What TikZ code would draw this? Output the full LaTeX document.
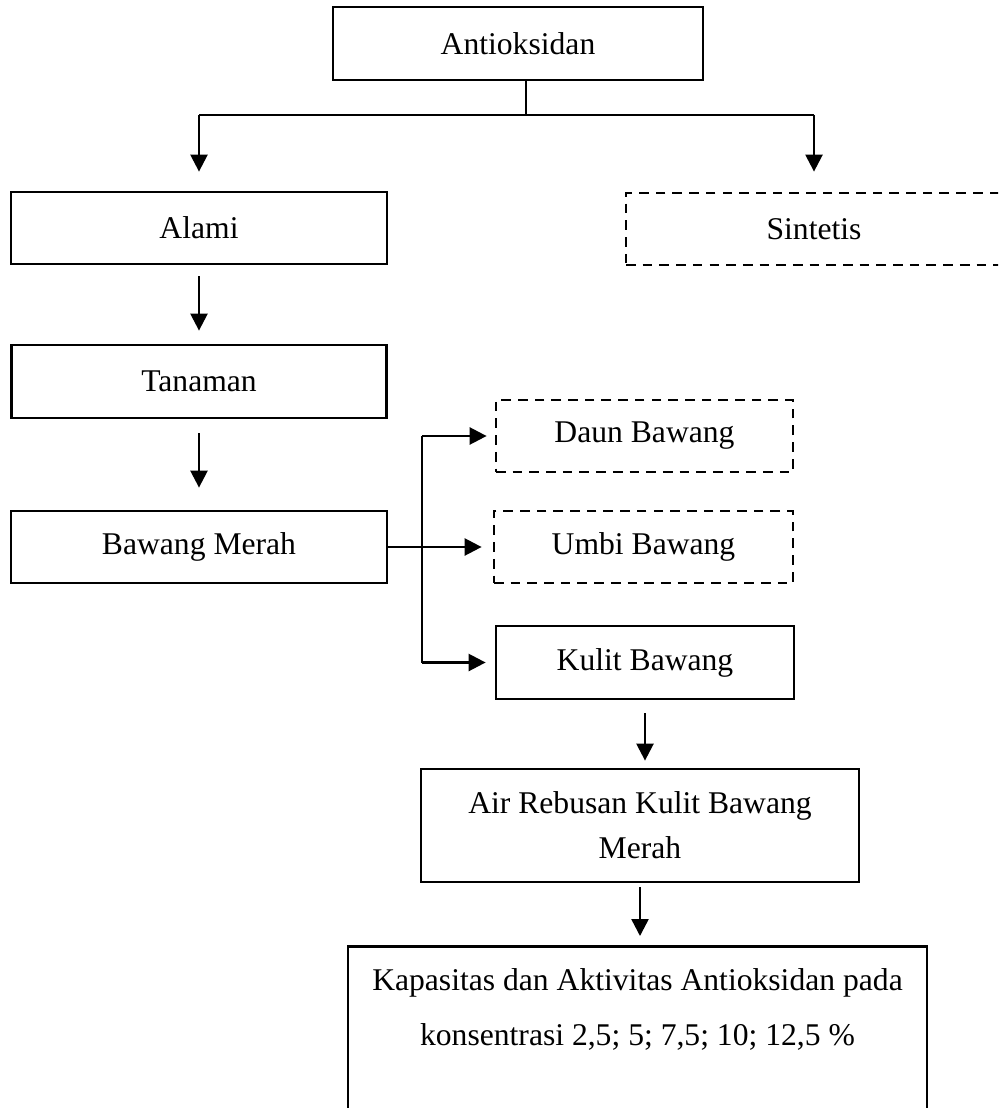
\documentclass[tikz,border=0pt]{standalone}
\usepackage{fontspec}
\setmainfont{Liberation Serif}
\usetikzlibrary{arrows.meta, calc}

\begin{document}
\begin{tikzpicture}[
        x=0.02cm, y=-0.02cm,
        font=\fontsize{18pt}{25.6pt}\selectfont,
        every node/.style={inner sep=2pt},
        kotak/.style={draw, line width=1.6pt, align=center},
        kotakputus/.style={kotak, dash pattern=on 5.5pt off 4pt},
        panah/.style={-{Triangle[length=0.34cm, width=0.34cm]}, line width=1.4pt},
        garis/.style={line width=0.8pt}
    ]
        % -------- Bidang gambar --------
        \useasboundingbox (0,0) rectangle (998,1108);
        \clip (0,0) rectangle (998,1108);

        % -------- Kotak --------
        \node[kotak, minimum width=7.4cm, minimum height=1.46cm] (anti) at (518, 43.5) {Antioksidan};

        \node[kotak, minimum width=7.52cm, minimum height=1.44cm] (alami) at (199, 228) {Alami};
        \node[kotakputus, minimum width=7.52cm, minimum height=1.44cm] (sintetis) at (814, 229) {Sintetis};

        \node[kotak, minimum width=7.5cm, minimum height=1.46cm] (tanaman) at (199, 381.5) {Tanaman};
        \node[kotak, minimum width=7.52cm, minimum height=1.44cm] (bawang) at (199, 547) {Bawang Merah};

        % bagian bawang merah
        \node[kotakputus, minimum width=5.94cm, minimum height=1.44cm] (daun) at (644.5, 436) {Daun Bawang};
        \node[kotakputus, minimum width=5.98cm, minimum height=1.44cm] (umbi) at (643.5, 547) {Umbi Bawang};
        \node[kotak, minimum width=5.96cm, minimum height=1.46cm] (kulit) at (645, 662.5) {Kulit Bawang};

        \node[kotak, minimum width=8.76cm, minimum height=2.26cm] (air) at (640, 825.5) {Air Rebusan Kulit Bawang\\Merah};

        % kotak hasil (terpotong di bawah)
        \node[kotak, anchor=north, minimum width=11.58cm, minimum height=3.52cm,
              font=\fontsize{18pt}{31.2pt}\selectfont] (hasil) at (637.5, 945)
              {Kapasitas dan Aktivitas Antioksidan pada\\konsentrasi 2,5; 5; 7,5; 10; 12,5 \%\\ \mbox{}};

        % -------- Percabangan atas --------
        \coordinate (tengah) at (526, 115);
        \coordinate (ki) at (alami.north |- tengah);
        \coordinate (ka) at (sintetis.north |- tengah);
        \draw[garis] (anti.south -| tengah) -- (tengah);
        \draw[garis] (ki) -- (ka);
        \draw[panah] (ki) -- ([yshift=0.38cm]alami.north);
        \draw[panah] (ka) -- ([yshift=0.40cm]sintetis.north);

        % -------- Alur kiri --------
        \draw[panah] ([yshift=-0.22cm]alami.south) -- ([yshift=0.26cm]tanaman.north);
        \draw[panah] ([yshift=-0.28cm]tanaman.south) -- ([yshift=0.44cm]bawang.north);

        % -------- Percabangan bawang merah --------
        \coordinate (cabang) at (422, 547);
        \draw[garis] (bawang.east) -- (cabang);
        \draw[garis] (cabang |- daun.west) -- (cabang |- kulit.west);
        \draw[panah] (cabang |- daun.west) -- ([xshift=-0.16cm]daun.west);
        \draw[panah] (cabang) -- ([xshift=-0.22cm]umbi.west);
        \draw[panah] (cabang |- kulit.west) -- ([xshift=-0.18cm]kulit.west);

        % -------- Alur kulit bawang --------
        \draw[panah] ([yshift=-0.26cm]kulit.south) -- ([yshift=0.14cm]air.north -| kulit.south);
        \draw[panah] ([yshift=-0.08cm]air.south) -- ([yshift=0.18cm]hasil.north -| air.south);

    \end{tikzpicture}
\end{document}
